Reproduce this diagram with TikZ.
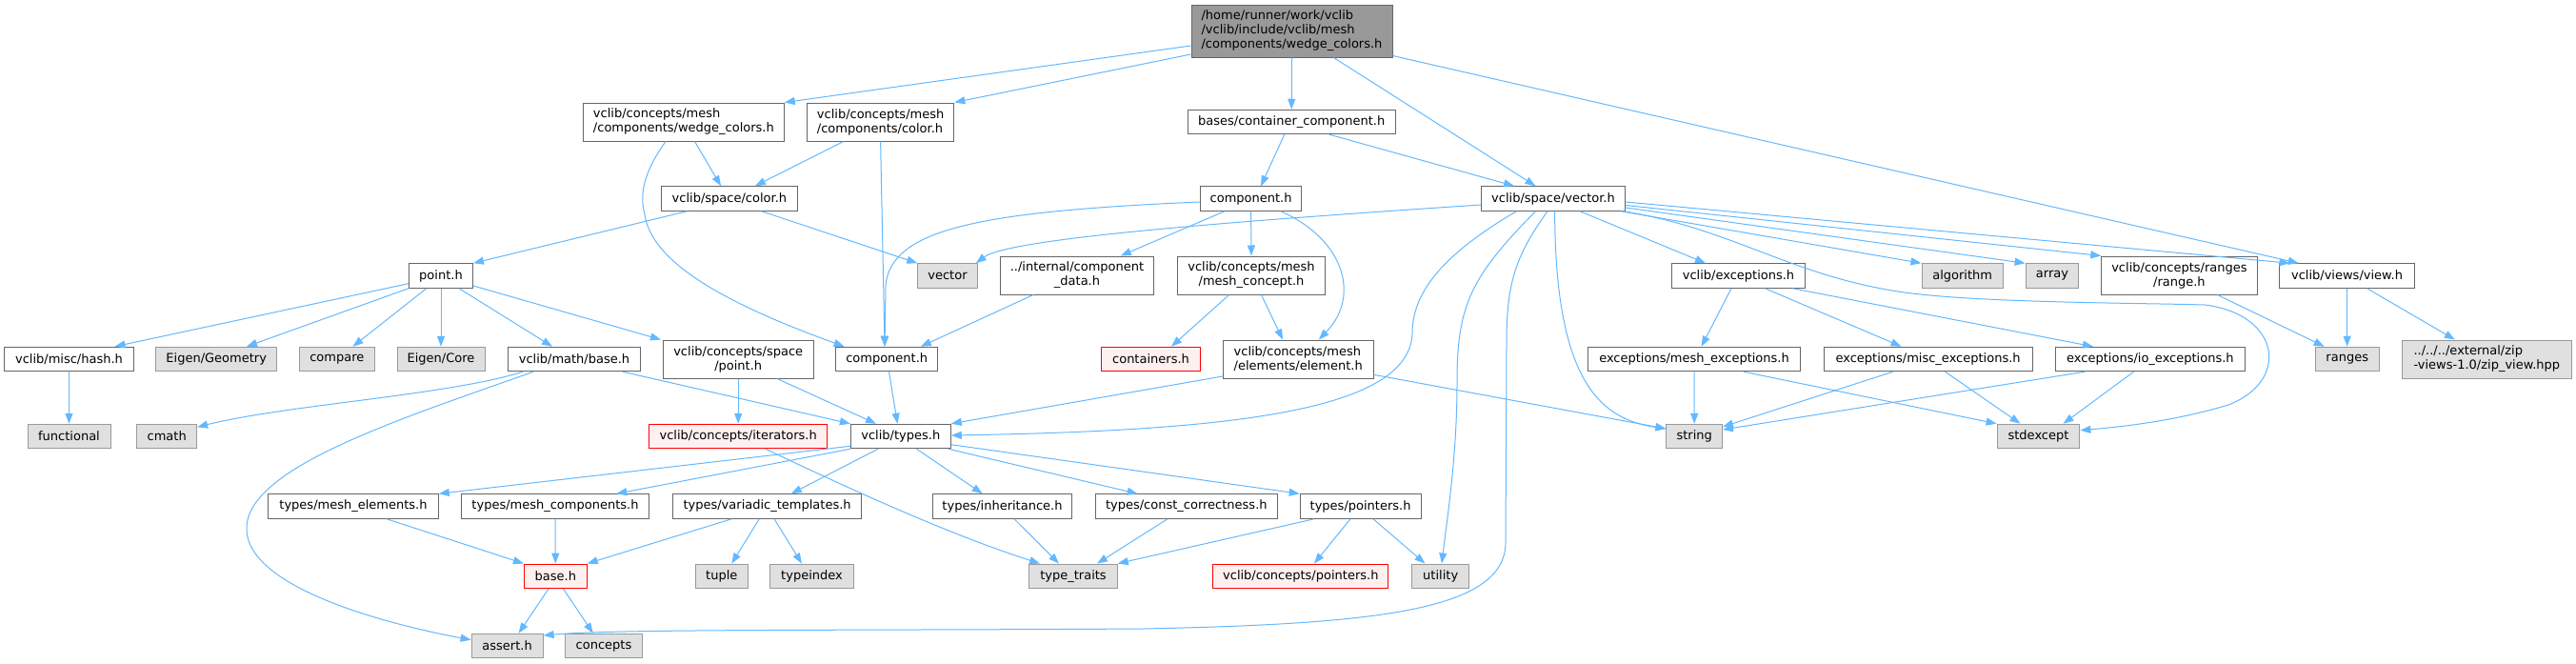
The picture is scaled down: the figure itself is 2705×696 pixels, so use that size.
\documentclass[tikz,border=0pt]{standalone}
\usepackage{fontspec}
\setmainfont{DejaVu Sans}
\usetikzlibrary{arrows.meta}
\definecolor{edgec}{HTML}{63B8FF}
\definecolor{nodeb}{HTML}{666666}
\definecolor{extb}{HTML}{999999}
\definecolor{extf}{HTML}{E0E0E0}
\definecolor{rootf}{HTML}{999999}
\definecolor{trcf}{HTML}{FFF0F0}
\definecolor{trcb}{HTML}{FF0000}
\begin{document}
\begin{tikzpicture}[x=1pt,y=-1pt,
  box/.style={rectangle, inner sep=0pt, line width=1pt, align=center,
    font=\fontsize{13}{15}\selectfont, minimum height=25.5pt},
  nrm/.style={box, draw=nodeb, fill=white},
  ext/.style={box, draw=extb, fill=extf},
  trc/.style={box, draw=trcb, fill=trcf},
  rootn/.style={box, draw=nodeb, fill=rootf},
  dep/.style={draw=edgec, line width=1pt, -{Triangle[length=11pt,width=8pt]}}]
\useasboundingbox (0,0) rectangle (2705,696);
% row 0
\node[rootn, align=left, minimum width=211pt, minimum height=55pt] (root) at (1356.5,32.5) {/home/runner/work/vclib\\/vclib/include/vclib/mesh\\/components/wedge\_colors.h};
% row 1
\node[nrm, align=left, minimum width=210.7pt, minimum height=40pt] (wc) at (717.9,128) {vclib/concepts/mesh\\/components/wedge\_colors.h};
\node[nrm, align=left, minimum width=154.5pt, minimum height=40pt] (cc) at (924.6,128) {vclib/concepts/mesh\\/components/color.h};
\node[nrm, minimum width=218pt] (bcc) at (1356.2,128) {bases/container\_component.h};
% row 2
\node[nrm, minimum width=142.5pt] (scol) at (765.9,208.5) {vclib/space/color.h};
\node[nrm, minimum width=106.7pt] (comp1) at (1313.6,208.5) {component.h};
\node[nrm, minimum width=151.3pt] (vec) at (1631,208.5) {vclib/space/vector.h};
% row 3
\node[nrm, minimum width=67pt] (point) at (463,289.5) {point.h};
\node[ext, minimum width=62.5pt] (vector) at (995,289.5) {vector};
\node[nrm, minimum width=161.2pt, minimum height=40pt] (cdata) at (1131,289) {../internal/component\\\_data.h};
\node[nrm, minimum width=155pt, minimum height=40pt] (meshc) at (1314,289) {vclib/concepts/mesh\\/mesh\_concept.h};
\node[nrm, minimum width=140pt] (exc) at (1825.5,289.5) {vclib/exceptions.h};
\node[ext, minimum width=85.4pt] (algorithm) at (2060.7,289.5) {algorithm};
\node[ext, minimum width=55.8pt] (array) at (2155,289.5) {array};
\node[nrm, minimum width=163.2pt, minimum height=40pt] (range) at (2288.4,289) {vclib/concepts/ranges\\/range.h};
\node[nrm, minimum width=141.1pt] (view) at (2464.5,289.5) {vclib/views/view.h};
% row 4
\node[nrm, minimum width=135.3pt] (hash) at (72.5,377) {vclib/misc/hash.h};
\node[ext, minimum width=126.8pt] (EGeo) at (227.2,377) {Eigen/Geometry};
\node[ext, minimum width=79pt] (compare) at (353.8,377) {compare};
\node[ext, minimum width=92pt] (ECore) at (463,377) {Eigen/Core};
\node[nrm, minimum width=139.3pt] (mbase) at (603,377) {vclib/math/base.h};
\node[nrm, minimum width=157.6pt, minimum height=40pt] (spoint) at (775.2,377) {vclib/concepts/space\\/point.h};
\node[nrm, minimum width=107.1pt] (comp2) at (931.2,377) {component.h};
\node[trc, minimum width=103.6pt] (containers) at (1208.5,377) {containers.h};
\node[nrm, align=left, minimum width=157.6pt, minimum height=40pt] (elem) at (1363.2,377) {vclib/concepts/mesh\\/elements/element.h};
\node[nrm, minimum width=223.2pt] (mexc) at (1779,377) {exceptions/mesh\_exceptions.h};
\node[nrm, minimum width=218.8pt] (miscexc) at (2024.6,377) {exceptions/misc\_exceptions.h};
\node[nrm, minimum width=199.1pt] (ioexc) at (2257.9,377) {exceptions/io\_exceptions.h};
\node[ext, minimum width=67pt] (ranges) at (2464.7,377) {ranges};
\node[ext, align=left, minimum width=177.5pt, minimum height=40pt] (zip) at (2611.3,377) {../../../external/zip\\-views-1.0/zip\_view.hpp};
% row 5
\node[ext, minimum width=87pt] (functional) at (72.5,458) {functional};
\node[ext, minimum width=62.9pt] (cmath) at (175.2,458) {cmath};
\node[trc, minimum width=187.1pt] (iter) at (775.2,458) {vclib/concepts/iterators.h};
\node[nrm, minimum width=104.9pt] (types) at (945.8,458) {vclib/types.h};
\node[ext, minimum width=58.5pt] (string) at (1779.2,458) {string};
\node[ext, minimum width=86.8pt] (stdexcept) at (2140.5,458) {stdexcept};
% row 6
\node[nrm, minimum width=178.6pt] (melem) at (371,531.5) {types/mesh\_elements.h};
\node[nrm, minimum width=197.3pt] (mcomp) at (583,531.5) {types/mesh\_components.h};
\node[nrm, minimum width=198.6pt] (variadic) at (805.6,531.5) {types/variadic\_templates.h};
\node[nrm, minimum width=146.9pt] (inherit) at (1052.5,531.5) {types/inheritance.h};
\node[nrm, minimum width=190.7pt] (constc) at (1245.8,531.5) {types/const\_correctness.h};
\node[nrm, minimum width=126.8pt] (pointers) at (1428.6,531.5) {types/pointers.h};
% row 7
\node[trc, minimum width=65.7pt] (base) at (583.3,604.8) {base.h};
\node[ext, minimum width=54.9pt] (tuple) at (757.8,604.8) {tuple};
\node[ext, minimum width=87.1pt] (typeindex) at (852.5,604.8) {typeindex};
\node[ext, minimum width=92.4pt] (ttraits) at (1127,604.8) {type\_traits};
\node[trc, minimum width=184.3pt] (cptr) at (1365.8,604.8) {vclib/concepts/pointers.h};
\node[ext, minimum width=60.3pt] (utility) at (1512.7,604.8) {utility};
% row 8
\node[ext, minimum width=75pt] (assert) at (532.6,678) {assert.h};
\node[ext, minimum width=80.3pt] (concepts) at (634,678) {concepts};

% ---- edges ----
\draw[dep] ([yshift=-15.5]root.west) -- (wc.north east);
\draw[dep] ([yshift=-24.5]root.west) -- (cc.north east);
\draw[dep] (root.south) -- (bcc.north);
\draw[dep] ([xshift=43.9]root.south) -- ([xshift=-18.5]vec.north);
\draw[dep] ([yshift=2]root.south east) -- ([xshift=-50.8]view.north);

\draw[dep] ([xshift=11.6]wc.south) -- ([xshift=-8.9]scol.north);
\draw[dep] ([xshift=-18.9]wc.south) .. controls (680,175) and (670,200) .. (677,225) .. controls (684,275) and (760,318) .. ([xshift=-44.6]comp2.north);
\draw[dep] ([xshift=-38.9]cc.south) -- ([xshift=27]scol.north);
\draw[dep] (cc.south) -- ([xshift=-2.2]comp2.north);

\draw[dep] ([xshift=-7.5]bcc.south) -- ([xshift=10.4]comp1.north);
\draw[dep] ([xshift=39.8]bcc.south) -- ([xshift=-41]vec.north);

\draw[dep] ([xshift=-44.5]scol.south) -- (point.north east);
\draw[dep] ([xshift=33.7]scol.south) -- (vector.north west);

\draw[dep] ([yshift=-3.5]comp1.west) .. controls (1030,222) and (935,240) .. (930,300) -- ([xshift=-2.2]comp2.north);
\draw[dep] ([xshift=-27.6]comp1.south) -- ([xshift=45.8]cdata.north);
\draw[dep] (comp1.south) -- (meshc.north);
\draw[dep] ([xshift=31]comp1.south) .. controls (1410,250) and (1430,310) .. ([xshift=21.6]elem.north);
\draw[dep] ([xshift=-46]cdata.south) -- ([xshift=35.7]comp2.north);
\draw[dep] ([xshift=-23.4]meshc.south) -- ([xshift=21.5]containers.north);
\draw[dep] ([xshift=10.5]meshc.south) -- ([xshift=-16.2]elem.north);

\draw[dep] ([yshift=-6.5]vec.west) .. controls (1300,232) and (1060,250) .. ([xshift=-2]vector.north east);
\draw[dep] ([xshift=-38.6]vec.south) .. controls (1510,270) and (1483,310) .. (1483,350) .. controls (1480,430) and (1300,452) .. ([yshift=1]types.east);
\draw[dep] ([xshift=-18.5]vec.south) .. controls (1545,290) and (1530,320) .. (1530,400) .. controls (1530,480) and (1520,540) .. ([xshift=1.3]utility.north);
\draw[dep] ([xshift=-6]vec.south) .. controls (1590,270) and (1582,300) .. (1582,360) -- (1581,570) .. controls (1580,640) and (1450,655) .. (1200,660) .. controls (900,662) and (650,660) .. ([yshift=11]assert.east);
\draw[dep] ([xshift=1.6]vec.south) .. controls (1633,400) and (1680,440) .. ([yshift=8]string.west);
\draw[dep] ([xshift=28]vec.south) -- ([xshift=-34.5]exc.north);
\draw[dep] ([xshift=-5]vec.south east) -- (algorithm.north west);
\draw[dep] ([yshift=-9.5]vec.east) -- (array.north west);
\draw[dep] ([yshift=-7]vec.east) -- (range.north west);
\draw[dep] ([yshift=-3.5]vec.east) -- ([xshift=-60]view.north);
\draw[dep] ([xshift=-3]vec.south east) .. controls (1820,240) and (1880,290) .. (2000,307) .. controls (2080,318) and (2250,318) .. (2315,320) .. controls (2395,330) and (2405,400) .. (2340,425) .. controls (2290,440) and (2240,447) .. ([yshift=6.3]stdexcept.east);

\draw[dep] ([yshift=-8.2]point.west) -- ([xshift=48]hash.north);
\draw[dep] (point.south west) -- ([xshift=31.8]EGeo.north);
\draw[dep] ([xshift=-15.2]point.south) -- ([xshift=16.7]compare.north);
\draw[dep] (point.south) -- (ECore.north);
\draw[dep] ([xshift=19]point.south) -- ([xshift=-23]mbase.north);
\draw[dep] ([yshift=-10.5]point.east) -- ([xshift=-2]spoint.north west);
\draw[dep] (hash.south) -- (functional.north);

\draw[dep] ([xshift=-54]mbase.south) .. controls (470,415) and (300,425) .. ([yshift=9.7]cmath.east);
\draw[dep] ([xshift=-43]mbase.south) .. controls (420,440) and (262,490) .. (259,553) .. controls (256,610) and (380,650) .. ([yshift=6.3]assert.west);
\draw[dep] ([xshift=51]mbase.south) -- (types.north west);

\draw[dep] (spoint.south) -- (iter.north);
\draw[dep] ([xshift=40.8]spoint.south) -- ([xshift=-25.8]types.north);
\draw[dep] ([xshift=2.3]comp2.south) -- ([xshift=-3.4]types.north);
\draw[dep] ([yshift=-18]elem.west) -- (types.north east);
\draw[dep] ([yshift=-16.3]elem.east) -- ([yshift=8]string.west);
\draw[dep] ([xshift=28.8]iter.south) .. controls (900,517) and (1000,562) .. ([xshift=-35]ttraits.north);

\draw[dep] ([yshift=-10.3]types.west) -- (melem.north east);
\draw[dep] (types.south west) -- ([xshift=64.3]mcomp.north);
\draw[dep] ([xshift=-23.8]types.south) -- ([xshift=25.2]variadic.north);
\draw[dep] ([xshift=16.7]types.south) -- ([xshift=-20.8]inherit.north);
\draw[dep] ([xshift=50]types.south) -- ([xshift=-51.2]constc.north);
\draw[dep] ([yshift=-8.7]types.east) -- (pointers.north west);

\draw[dep] ([xshift=35]melem.south) -- (base.north west);
\draw[dep] (mcomp.south) -- (base.north);
\draw[dep] ([xshift=-37.3]variadic.south) -- (base.north east);
\draw[dep] ([xshift=-8.3]variadic.south) -- ([xshift=10.5]tuple.north);
\draw[dep] ([xshift=7.4]variadic.south) -- ([xshift=-10.5]typeindex.north);
\draw[dep] ([xshift=12.5]inherit.south) -- ([xshift=-15]ttraits.north);
\draw[dep] ([xshift=-19.8]constc.south) -- ([xshift=25]ttraits.north);
\draw[dep] ([xshift=-48.6]pointers.south) -- (ttraits.north east);
\draw[dep] ([xshift=-10.6]pointers.south) -- ([xshift=14.2]cptr.north);
\draw[dep] ([xshift=13.4]pointers.south) -- ([xshift=-16.3]utility.north);
\draw[dep] ([xshift=-7.3]base.south) -- ([xshift=12]assert.north);
\draw[dep] ([xshift=8.2]base.south) -- ([xshift=-11.2]concepts.north);

\draw[dep] ([xshift=-7.5]exc.south) -- ([xshift=7.6]mexc.north);
\draw[dep] ([xshift=28]exc.south) -- ([xshift=-28]miscexc.north);
\draw[dep] ([xshift=57]exc.south) -- ([xshift=-60]ioexc.north);
\draw[dep] (mexc.south) -- (string.north);
\draw[dep] ([xshift=52]mexc.south) -- (stdexcept.north west);
\draw[dep] ([xshift=-37]miscexc.south) -- ([yshift=10]string.east);
\draw[dep] ([xshift=18]miscexc.south) -- ([xshift=-19]stdexcept.north);
\draw[dep] ([xshift=-69]ioexc.south) -- ([yshift=7]string.east);
\draw[dep] ([xshift=-17.4]ioexc.south) -- ([xshift=26]stdexcept.north);

\draw[dep] ([xshift=40]range.south) -- ([xshift=-24]ranges.north);
\draw[dep] (view.south) -- (ranges.north);
\draw[dep] ([xshift=21]view.south) -- ([xshift=-33.5]zip.north);
\end{tikzpicture}
\end{document}
